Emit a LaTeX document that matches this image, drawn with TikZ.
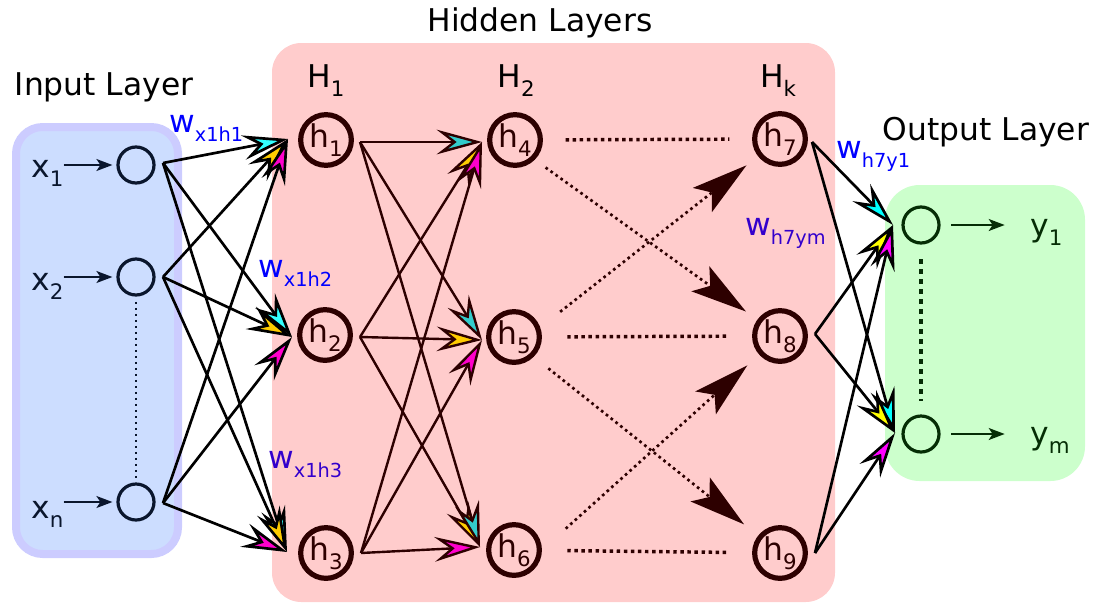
\documentclass[tikz,border=0pt]{standalone}
\usepackage{fontspec}
\setmainfont{DejaVu Sans}
\usetikzlibrary{arrows.meta}

\definecolor{inkin}{RGB}{10,22,45}
\definecolor{inkhid}{RGB}{45,0,0}
\definecolor{inkout}{RGB}{5,45,5}
\definecolor{boxin}{RGB}{204,221,255}
\definecolor{boxinedge}{RGB}{204,204,255}
\definecolor{boxhid}{RGB}{255,204,204}
\definecolor{boxout}{RGB}{204,255,204}
\definecolor{wblue}{RGB}{0,0,255}
\definecolor{wviolet}{RGB}{51,0,204}
\definecolor{incyan}{RGB}{51,255,255}
\definecolor{ingold}{RGB}{255,204,0}
\definecolor{inpink}{RGB}{255,0,204}
\definecolor{hidteal}{RGB}{51,204,204}
\definecolor{outcyan}{RGB}{0,255,255}
\definecolor{outyellow}{RGB}{255,255,0}
\definecolor{outpink}{RGB}{255,0,255}

\newcommand\lsub[1]{\raisebox{-0.3em}{\fontsize{16}{16}\selectfont #1}}
\newcommand\wsub[1]{\raisebox{-0.3em}{\fontsize{14.5}{14.5}\selectfont #1}}

\begin{document}
\begin{tikzpicture}[x=0.75pt,y=-0.75pt,
  big/.style={font=\fontsize{23.5}{26}\selectfont},
  innode/.style={circle,draw=inkin,line width=2.4pt,minimum size=27pt,inner sep=0pt},
  hidnode/.style={circle,draw=inkhid,line width=3.9pt,minimum size=38pt,inner sep=0pt,big,text=inkhid},
  outnode/.style={circle,draw=inkout,line width=2.4pt,minimum size=27pt,inner sep=0pt},
  sidelabel/.style={big,anchor=base west,inner sep=0pt},
  wlabel/.style={big,anchor=base west,inner sep=0pt},
  head/.style={-{Stealth[length=34pt,width=18.5pt,inset=12pt,fill=#1]}},
  inlink/.style={line width=2pt,draw=black},
  hidlink/.style={line width=1.8pt,draw=inkhid},
  outlink/.style={line width=2pt,draw=black},
  smallarrow/.style={-{Stealth[length=12pt,width=9pt,inset=3pt]},line width=1.3pt},
  dots/.style={line width=2.6pt,draw=inkhid,dash pattern=on 2.6pt off 2.7pt},
  dotarrow/.style={line width=2pt,draw=inkhid,dash pattern=on 2pt off 2.6pt,
    -{Stealth[length=42pt,width=23pt,inset=9pt,fill=inkhid,sep=0pt]}}
]
  \useasboundingbox (0,0) rectangle (1094,607);

  %% layer boxes
  \fill[boxhid,rounded corners=22pt] (272,43) rectangle (835,602);
  \draw[boxinedge,fill=boxin,line width=6pt,rounded corners=20pt] (16,127) rectangle (178,554);
  \fill[boxout,rounded corners=26pt] (885,185) rectangle (1085,481);

  \node[big,anchor=base] (tin) at (104,95) {Input Layer};
  \node[big,anchor=base] (thid) at (540,31) {Hidden Layers};
  \node[big,anchor=base] (tout) at (986,140) {Output Layer};

  \node[big,anchor=base] (cH1) at (326,87) {H\lsub{1}};
  \node[big,anchor=base] (cH2) at (516,87) {H\lsub{2}};
  \node[big,anchor=base] (cHk) at (778,87) {H\lsub{k}};

  %% neurons
  \node[innode] (in1) at (136,165) {};
  \node[innode] (in2) at (136,277) {};
  \node[innode] (inn) at (136,502) {};

  \node[hidnode] (h1) at (326,140) {h\lsub{1}};
  \node[hidnode] (h2) at (325,335) {h\lsub{2}};
  \node[hidnode] (h3) at (326,553) {h\lsub{3}};
  \node[hidnode] (h4) at (515,140) {h\lsub{4}};
  \node[hidnode] (h5) at (514,337) {h\lsub{5}};
  \node[hidnode] (h6) at (514,550) {h\lsub{6}};
  \node[hidnode] (h7) at (780,139) {h\lsub{7}};
  \node[hidnode] (h8) at (780,336) {h\lsub{8}};
  \node[hidnode] (h9) at (780,553) {h\lsub{9}};

  \node[outnode] (y1) at (921,225) {};
  \node[outnode] (ym) at (921,434) {};

  %% meeting points of the links
  \coordinate (x1o) at (163,163);
  \coordinate (x2o) at (163,277);
  \coordinate (xno) at (163,503);
  \coordinate (h1i) at (288,139);
  \coordinate (h2i) at (292,337);
  \coordinate (h3i) at (287,552);
  \coordinate (h1o) at (360,142);
  \coordinate (h2o) at (360,337);
  \coordinate (h3o) at (361,553);
  \coordinate (h4i) at (482,142);
  \coordinate (h5i) at (482,340);
  \coordinate (h6i) at (480,547);
  \coordinate (h7o) at (812,142);
  \coordinate (h8o) at (815,334);
  \coordinate (h9o) at (815,553);
  \coordinate (y1i) at (893,225);
  \coordinate (ymi) at (895,433);

  %% input -> H1
  \draw[inlink,head=ingold] (x2o) -- (h1i); %% x2 -> h1
  \draw[inlink,head=inpink] (xno) -- (h1i); %% xn -> h1
  \draw[inlink,head=incyan] (x1o) -- (h1i); %% x1 -> h1
  \draw[inlink,head=incyan] (x1o) -- (h2i); %% x1 -> h2
  \draw[inlink,head=ingold] (x2o) -- (h2i); %% x2 -> h2
  \draw[inlink,head=inpink] (xno) -- (h2i); %% xn -> h2
  \draw[inlink,head=incyan] (x1o) -- (h3i); %% x1 -> h3
  \draw[inlink,head=ingold] (x2o) -- (h3i); %% x2 -> h3
  \draw[inlink,head=inpink] (xno) -- (h3i); %% xn -> h3

  %% H1 -> H2
  \draw[hidlink,head=ingold] (h2o) -- (h4i); %% 2 -> 4
  \draw[hidlink,head=inpink] (h3o) -- (h4i); %% 3 -> 4
  \draw[hidlink,head=hidteal] (h1o) -- (h4i); %% 1 -> 4
  \draw[hidlink,head=hidteal] (h1o) -- (h5i); %% 1 -> 5
  \draw[hidlink,head=ingold] (h2o) -- (h5i); %% 2 -> 5
  \draw[hidlink,head=inpink] (h3o) -- (h5i); %% 3 -> 5
  \draw[hidlink,head=ingold] (h2o) -- (h6i); %% 2 -> 6
  \draw[hidlink,head=hidteal] (h1o) -- (h6i); %% 1 -> 6
  \draw[hidlink,head=inpink] (h3o) -- (h6i); %% 3 -> 6

  %% H2 ... Hk
  \draw[dots,shorten <=17pt,shorten >=17pt] (h4) -- (h7);
  \draw[dots,shorten <=19pt,shorten >=18pt] (h5) -- (h8);
  \draw[dots,shorten <=19pt,shorten >=18pt] (h6) -- (h9);
  \draw[dotarrow,shorten <=10pt,shorten >=10.5pt] (h4.south east) -- (h8); %% 4 -> 8
  \draw[dotarrow,shorten <=19pt,shorten >=11pt] (h5.20) -- (h7); %% 5 -> 7
  \draw[dotarrow,shorten <=14pt,shorten >=13.5pt] (h5.south east) -- (h9); %% 5 -> 9
  \draw[dotarrow,shorten <=24pt,shorten >=12pt] (h6.east) -- (h8); %% 6 -> 8

  %% Hk -> output
  \draw[outlink,head=outcyan] (h7o) -- (y1i); %% 7 -> y1
  \draw[outlink,head=outyellow] (h8o) -- (y1i); %% 8 -> y1
  \draw[outlink,head=outpink] (h9o) -- (y1i); %% 9 -> y1
  \draw[outlink,head=outcyan] (h7o) -- (ymi); %% 7 -> ym
  \draw[outlink,head=outyellow] (h8o) -- (ymi); %% 8 -> ym
  \draw[outlink,head=outpink] (h9o) -- (ymi); %% 9 -> ym

  %% inputs and outputs
  \node[sidelabel,text=inkin] (lx1) at (31,177) {x\lsub{1}};
  \node[sidelabel,text=inkin] (lx2) at (31,290) {x\lsub{2}};
  \node[sidelabel,text=inkin] (lxn) at (31,518) {x\lsub{n}};
  \draw[smallarrow,draw=inkin,fill=inkin,shorten >=3pt] (lx1.east |- in1) -- (in1);
  \draw[smallarrow,draw=inkin,fill=inkin,shorten >=3pt] (lx2.east |- in2) -- (in2);
  \draw[smallarrow,draw=inkin,fill=inkin,shorten >=3pt] (lxn.east |- inn) -- (inn);
  \draw[inkin,line width=1.5pt,dash pattern=on 1.5pt off 3pt,shorten <=4pt,shorten >=3pt] (in2) -- (inn);

  \node[sidelabel,text=inkout] (ly1) at (1030,236) {y\lsub{1}};
  \node[sidelabel,text=inkout] (lym) at (1030,444) {y\lsub{m}};
  \draw[smallarrow,draw=inkout,fill=inkout,shorten <=8pt,shorten >=19pt] (y1) -- (ly1.west |- y1);
  \draw[smallarrow,draw=inkout,fill=inkout,shorten <=8pt,shorten >=19pt] (ym) -- (lym.west |- ym);
  \draw[inkout,line width=3pt,dash pattern=on 3.75pt off 3.75pt,shorten <=11pt,shorten >=10pt] (y1) -- (ym);

  %% weights
  \node[wlabel,text=wblue] (wx1h1) at (169,132) {w\wsub{x1h1}};
  \node[wlabel,text=wblue] (wx1h2) at (258,277) {w\wsub{x1h2}};
  \node[wlabel,text=wviolet] (wx1h3) at (268,468) {w\wsub{x1h3}};
  \node[wlabel,text=wblue] (wh7y1) at (836,158) {w\wsub{h7y1}};
  \node[wlabel,text=wviolet] (wh7ym) at (745,235) {w\wsub{h7ym}};

\end{tikzpicture}
\end{document}
